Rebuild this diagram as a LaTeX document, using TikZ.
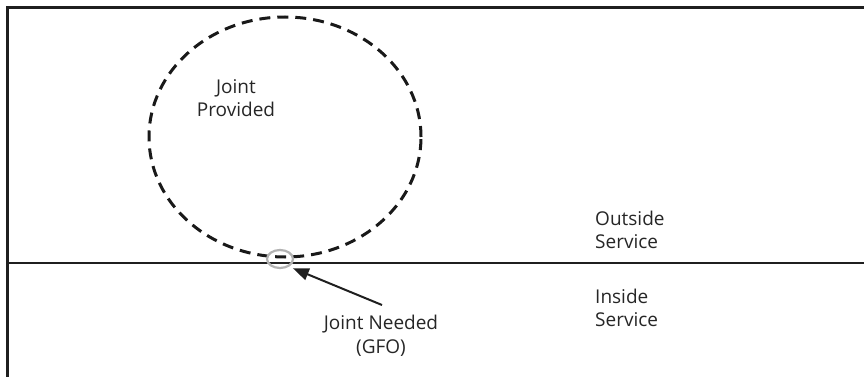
\documentclass[tikz,border=0pt]{standalone}
\usepackage{fontspec}
\setmainfont{Open Sans}
\usetikzlibrary{shapes.geometric,arrows.meta}
\tikzset{
  lbl/.style={font=\fontsize{19}{23.5}\selectfont, align=center, text=black!85, inner sep=0pt},
  border/.style={line width=3pt, black!88},
}
\begin{document}
\begin{tikzpicture}[x=1pt,y=-1pt]
\useasboundingbox (0,0) rectangle (864,377);
% frame and divider
\coordinate (tl) at (7,8);
\coordinate (tr) at (864,8);
\coordinate (bl) at (7,377);
\coordinate (ml) at (7,263);
\coordinate (mr) at (864,263);
\path[draw,border] (tr) -- (tl) -- (bl);
\path[draw,line width=2.5pt,black!88] (ml) -- (mr);
% regions
\node[draw, ellipse, dashed, dash pattern=on 11pt off 7pt, line width=3pt, black!90, minimum width=272pt, minimum height=240pt, inner sep=0pt] (provided) at (285,137) {};
\node[draw, ellipse, gray!60, line width=2.2pt, minimum width=26pt, minimum height=18pt, inner sep=0pt] (gfo) at (280,259) {};
% labels
\node[lbl] (jp) at (236,98) {Joint\\Provided};
\node[lbl, align=left, anchor=west] (out) at (595,230) {Outside\\Service};
\node[lbl, align=left, anchor=west] (in) at (595,308) {Inside\\Service};
\node[lbl] (jn) at (381,336) {Joint Needed\\(GFO)};
\coordinate (tail) at (382,305);
\path[draw,line width=2pt,black!88,-{Triangle[length=16pt,width=12pt]},shorten >=4pt] (tail) -- (gfo.-40);
\end{tikzpicture}
\end{document}
